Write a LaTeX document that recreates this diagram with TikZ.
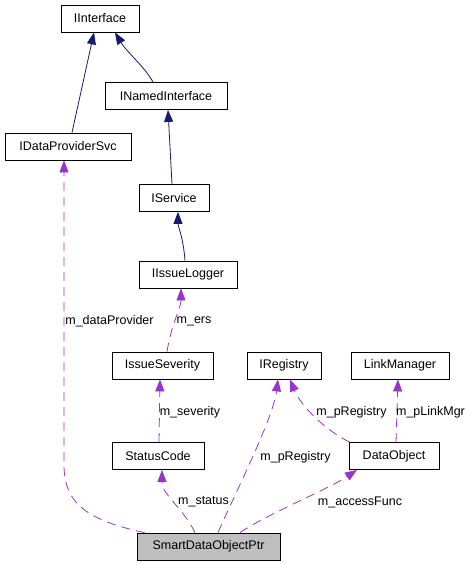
\documentclass[tikz,border=0pt]{standalone}
\usepackage{fontspec}
\setmainfont{Liberation Sans}
\usetikzlibrary{arrows.meta}
\definecolor{inhcolor}{HTML}{191970}
\definecolor{usecolor}{HTML}{9A32CD}

\begin{document}
\begin{tikzpicture}[x=1pt,y=-1pt,>={Triangle[length=12pt,width=9pt]},
    cls/.style={draw=black,line width=0.8pt,minimum height=27pt,inner sep=0pt,
        font=\fontsize{12.5}{15}\selectfont},
    inh/.style={->,draw=inhcolor,line width=0.8pt},
    use/.style={->,draw=usecolor,line width=0.8pt,dash pattern=on 9pt off 6pt},
    lbl/.style={inner sep=0pt,font=\fontsize{12.5}{15}\selectfont}]
    \useasboundingbox (0,0) rectangle (476,565);
    \foreach \n/\x/\y/\w in {IInterface/100/18.5/78,INamedInterface/166/96/122,
            IDataProviderSvc/68/146.5/126,IService/174/198/70,IIssueLogger/188/274.5/98,
            IssueSeverity/162.5/365.5/101,IRegistry/284/365.5/74,LinkManager/400/365.5/98,
            StatusCode/158/456/92,DataObject/394/456/90}
        \node[cls,minimum width=\w pt] (\n) at (\x,\y) {\n};
    \node[cls,minimum width=143pt,fill=black!25] (SmartDataObjectPtr) at (208.5,546.5) {SmartDataObjectPtr};
    \draw[inh] ([xshift=4pt]IDataProviderSvc.north) -- ([xshift=-6pt]IInterface.south);
    \draw[inh] ([xshift=-13pt]INamedInterface.north) .. controls +(-8,-15) and +(12,20) .. ([xshift=15pt]IInterface.south);
    \draw[inh] ([xshift=-2pt]IService.north) -- ([xshift=2pt]INamedInterface.south);
    \draw[inh] ([xshift=-3pt]IIssueLogger.north) .. controls +(-2,-25) and +(0,15) .. ([xshift=4pt]IService.south);
    \draw[use] ([xshift=4.5pt]IssueSeverity.north) .. controls +(5,-30) and +(0,20) .. ([xshift=-7pt]IIssueLogger.south);
    \draw[use] ([xshift=1pt]StatusCode.north) -- ([xshift=-2.5pt]IssueSeverity.south);
    \draw[use] ([xshift=8pt]SmartDataObjectPtr.north west) .. controls +(-55,-12) and +(0,40) .. (64,465) -- ([xshift=-4pt]IDataProviderSvc.south);
    \draw[use] ([xshift=-13.5pt]SmartDataObjectPtr.north) .. controls +(-12,-25) and +(0,25) .. ([xshift=4pt]StatusCode.south);
    \draw[use] ([xshift=9.5pt]SmartDataObjectPtr.north) .. controls +(15,-35) and +(-5,40) .. ([xshift=-6pt]IRegistry.south);
    \draw[use] ([xshift=1pt]DataObject.north west) .. controls +(-25,-12) and +(10,25) .. ([xshift=6pt]IRegistry.south);
    \draw[use] ([xshift=2pt]DataObject.north) -- ([xshift=-2pt]LinkManager.south);
    \draw[use] ([xshift=31.5pt]SmartDataObjectPtr.north) .. controls +(30,-20) and +(-30,20) .. ([xshift=-37pt]DataObject.south);
    \foreach \n/\x/\y/\t in {lblDataProvider/109.5/321/m\_dataProvider,lblErs/194/321/m\_ers,
            lblSeverity/190/412/m\_severity,lblRegistryA/351.5/412/m\_pRegistry,
            lblLinkMgr/430.5/412/m\_pLinkMgr,lblRegistryB/295.5/457/m\_pRegistry,
            lblStatus/203.5/502/m\_status,lblAccessFunc/360/502/m\_accessFunc}
        \node[lbl] (\n) at (\x,\y) {\t};
\end{tikzpicture}
\end{document}
